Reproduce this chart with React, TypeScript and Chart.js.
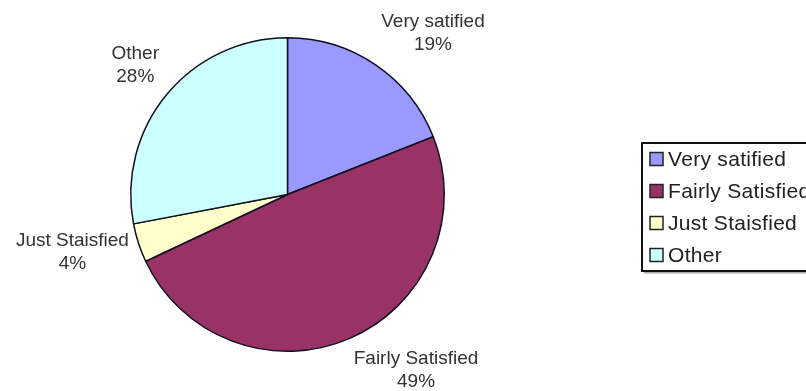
import React, { useEffect, useRef } from "react";
import { Chart, registerables } from "chart.js";

Chart.register(...registerables);

const categories = ["Very satified", "Fairly Satisfied", "Just Staisfied", "Other"];
const percentages = [19, 49, 4, 28];
const sliceColors = ["#9999FF", "#993366", "#FFFFCC", "#CCFFFF"];

const LABEL_FONT = "19px 'Liberation Sans', Arial, sans-serif";
const LEGEND_FONT = "21px 'Liberation Sans', Arial, sans-serif";

const outsideLabels = {
  id: "outsideLabels",
  afterDatasetsDraw(chart: any) {
    const ctx = chart.ctx;
    const meta = chart.getDatasetMeta(0);
    const data = chart.data.datasets[0].data as number[];
    const labels = chart.data.labels as string[];
    ctx.save();
    ctx.font = LABEL_FONT;
    ctx.fillStyle = "#333333";
    ctx.textAlign = "center";
    ctx.textBaseline = "middle";
    const lineH = 23;
    meta.data.forEach((arc: any, i: number) => {
      const { x, y, startAngle, endAngle, outerRadius } = arc.getProps(
        ["x", "y", "startAngle", "endAngle", "outerRadius"],
        true
      );
      const mid = (startAngle + endAngle) / 2;
      const cx = Math.cos(mid);
      const cy = Math.sin(mid);
      const lines = [labels[i], data[i] + "%"];
      const w = Math.max(...lines.map((l) => ctx.measureText(l).width));
      const h = lineH * 2;
      const gap = 10;
      const fy = Math.max(-1, Math.min(1, 3 * cy * Math.abs(cy)));
      const px = x + cx * (outerRadius + gap) + Math.sign(cx) * (w / 2);
      const py = y + cy * (outerRadius + gap) + fy * (h / 2);
      ctx.fillText(lines[0], px, py - lineH / 2);
      ctx.fillText(lines[1], px, py + lineH / 2);
    });
    ctx.restore();
  },
};

const boxLegend = {
  id: "boxLegend",
  afterDraw(chart: any) {
    const ctx = chart.ctx;
    const labels = chart.data.labels as string[];
    const colors = chart.data.datasets[0].backgroundColor as string[];
    const left = 642;
    const top = 143;
    const rowH = 32;
    const height = rowH * labels.length;
    ctx.save();
    ctx.strokeStyle = "#111111";
    ctx.lineWidth = 2;
    ctx.strokeRect(left, top, chart.width - left + 10, height);
    ctx.fillStyle = "rgba(0,0,0,0.35)";
    ctx.fillRect(left + 2, top + height + 1, chart.width - left, 1.5);
    ctx.font = LEGEND_FONT;
    (ctx as any).letterSpacing = "0.3px";
    ctx.textBaseline = "middle";
    ctx.textAlign = "left";
    labels.forEach((lab, i) => {
      const cy = top + 16 + i * rowH;
      ctx.fillStyle = colors[i];
      ctx.fillRect(650, cy - 6.5, 13, 13);
      ctx.strokeStyle = "#222222";
      ctx.lineWidth = 1.5;
      ctx.strokeRect(650, cy - 6.5, 13, 13);
      ctx.fillStyle = "#222222";
      ctx.fillText(lab, 668, cy + 1);
    });
    ctx.restore();
  },
};

const whiteBg = {
  id: "whiteBg",
  beforeDraw(chart: any) {
    const ctx = chart.ctx;
    ctx.save();
    ctx.fillStyle = "#ffffff";
    ctx.fillRect(0, 0, chart.width, chart.height);
    ctx.restore();
  },
};

export default function App() {
  const ref = useRef<HTMLCanvasElement>(null);
  useEffect(() => {
    if (!ref.current) return;
    const chart = new Chart(ref.current, {
      type: "pie",
      data: {
        labels: categories,
        datasets: [
          {
            data: percentages,
            backgroundColor: sliceColors,
            borderColor: "#111122",
            borderWidth: 1.5,
          },
        ],
      },
      options: {
        responsive: false,
        animation: false,
        layout: { padding: { left: 130, top: 37, right: 361, bottom: 39 } },
        plugins: {
          legend: { display: false },
          tooltip: { enabled: false },
        },
      },
      plugins: [whiteBg, outsideLabels, boxLegend],
    });
    return () => chart.destroy();
  }, []);
  return (
    <div style={{ position: "fixed", left: 0, top: 0, width: 806, height: 391, background: "#fff" }}>
      <canvas ref={ref} width={806} height={391} />
    </div>
  );
}
